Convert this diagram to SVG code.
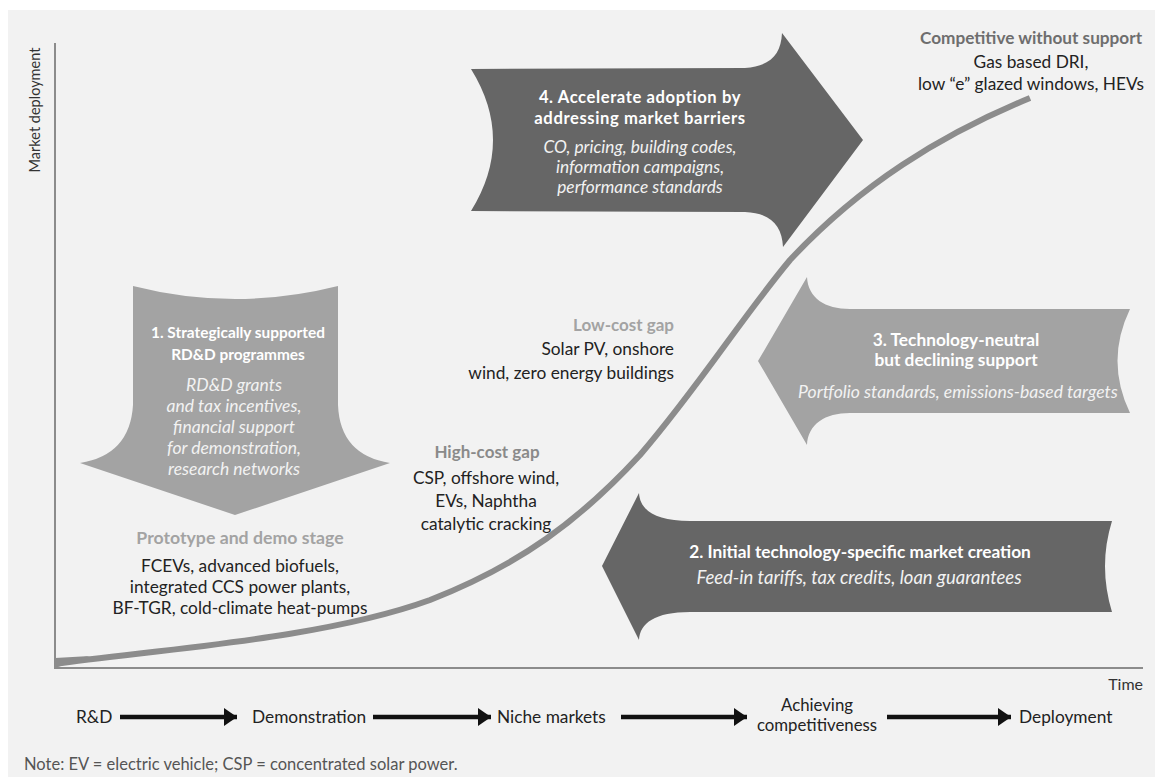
<svg xmlns="http://www.w3.org/2000/svg" width="1155" height="777" viewBox="0 0 1155 777">
  <style>
    text { font-family: "Lato", "Liberation Sans", sans-serif; }
    .b { font-weight: 700; }
    .i { font-style: italic; }
    .mid { text-anchor: middle; }
    .end { text-anchor: end; }
    .w { fill: #ffffff; }
    .wi { fill: #f2f2f2; }
    .dark { fill: #666666; }
    .light { fill: #a3a3a3; }
    .ink { fill: #222222; }
    .body { font-size: 17.3px; }
    .axis { fill: none; stroke: #8c8c8c; stroke-width: 2; }
    .flow { fill: none; stroke: #111111; stroke-width: 4.5; }
  </style>
  <defs>
    <marker id="head" markerUnits="userSpaceOnUse" markerWidth="14" markerHeight="20" refX="13" refY="10" orient="auto">
      <path d="M0,1 L13,10 L0,19 Z" fill="#111111"/>
    </marker>
  </defs>

  <!-- panel -->
  <rect x="8" y="10" width="1147" height="767" fill="#f2f2f2"/>

  <!-- axes -->
  <g id="axes">
    <path class="axis" d="M55,43 L55,668 L1143,668"/>
    <text x="40" y="110" class="mid" font-size="14.5" fill="#333" transform="rotate(-90 40 110)">Market deployment</text>
    <text x="1143" y="690" class="end" font-size="16" fill="#333">Time</text>
  </g>

  <!-- adoption S-curve -->
  <g id="curve">
    <path d="M55,664 C150,650 320,640 430,600 C520,565 580,520 640,455 C700,385 740,320 790,260 C860,185 940,135 1030,98" fill="none" stroke="#8c8c8c" stroke-width="6" stroke-linecap="butt"/>
    <path d="M55,668 L55,658 L90,656 Z" fill="#8c8c8c"/>
  </g>

  <!-- policy arrows -->
  <g id="policy-1">
    <path class="light" d="M133,286 Q235,312 338,286 L338,405 Q340,455 390,463 L235,515 L80,463 Q130,455 133,405 Z"/>
    <text class="b mid w" x="238" y="338" font-size="15.4">1. Strategically supported</text>
    <text class="b mid w" x="238" y="360" font-size="15.4">RD&amp;D programmes</text>
    <text class="i mid wi" x="234" y="391" font-size="17.5">RD&amp;D grants</text>
    <text class="i mid wi" x="234" y="412" font-size="17.5">and tax incentives,</text>
    <text class="i mid wi" x="234" y="433" font-size="17.5">financial support</text>
    <text class="i mid wi" x="234" y="454" font-size="17.5">for demonstration,</text>
    <text class="i mid wi" x="234" y="475" font-size="17.5">research networks</text>
  </g>

  <g id="policy-4">
    <path class="dark" d="M471,69 L745,68 C770,66 781,55 782,33 L863,140 L783,247 C782,226 771,213 745,212 L471,211 Q515,140 471,69 Z"/>
    <text class="b mid w" x="640" y="103" font-size="16.6" letter-spacing="0.6">4. Accelerate adoption by</text>
    <text class="b mid w" x="640" y="124" font-size="16.6" letter-spacing="0.6">addressing market barriers</text>
    <text class="i mid wi" x="640" y="153" font-size="17.3">CO, pricing, building codes,</text>
    <text class="i mid wi" x="640" y="173" font-size="17.3">information campaigns,</text>
    <text class="i mid wi" x="640" y="193" font-size="17.3">performance standards</text>
  </g>

  <g id="policy-3">
    <path class="light" d="M758,361 L807,277 C808,298 825,309 850,309 L1130,309 Q1105,361 1130,413 L850,413 C825,413 808,424 807,445 Z"/>
    <text class="b mid w" x="956" y="346" font-size="17.3">3. Technology-neutral</text>
    <text class="b mid w" x="956" y="366" font-size="17.3">but declining support</text>
    <text class="i mid wi" x="958" y="398" font-size="17.6">Portfolio standards, emissions-based targets</text>
  </g>

  <g id="policy-2">
    <path class="dark" d="M602,566 L639,493 C640,510 655,521 690,521 L1112,521 Q1098,566 1112,612 L690,612 C655,612 640,623 639,640 Z"/>
    <text class="b mid w" x="860" y="558" font-size="17.3">2. Initial technology-specific market creation</text>
    <text class="i mid wi" x="859" y="584" font-size="18.5">Feed-in tariffs, tax credits, loan guarantees</text>
  </g>

  <!-- technology stage labels -->
  <g id="stage-competitive">
    <text class="b mid" x="1031" y="44" font-size="17.2" fill="#6e6e6e">Competitive without support</text>
    <text class="mid ink body" x="1031" y="68">Gas based DRI,</text>
    <text class="mid ink body" x="1031" y="90">low “e” glazed windows, HEVs</text>
  </g>

  <g id="stage-low-cost">
    <text class="b end" x="674" y="331" font-size="17" fill="#a3a3a3">Low-cost gap</text>
    <text class="end ink body" x="674" y="355">Solar PV, onshore</text>
    <text class="end ink body" x="674" y="379">wind, zero energy buildings</text>
  </g>

  <g id="stage-high-cost">
    <text class="b mid" x="487" y="458" font-size="17" fill="#8a8a8a">High-cost gap</text>
    <text class="mid ink body" x="486" y="484">CSP, offshore wind,</text>
    <text class="mid ink body" x="486" y="507">EVs, Naphtha</text>
    <text class="mid ink body" x="486" y="530">catalytic cracking</text>
  </g>

  <g id="stage-prototype">
    <text class="b mid" x="240" y="544" font-size="17.7" fill="#a3a3a3">Prototype and demo stage</text>
    <text class="mid ink body" x="240" y="572">FCEVs, advanced biofuels,</text>
    <text class="mid ink body" x="240" y="593">integrated CCS power plants,</text>
    <text class="mid ink body" x="240" y="614">BF-TGR, cold-climate heat-pumps</text>
  </g>

  <!-- development phases along the time axis -->
  <g id="phase-rd"><text class="ink body" x="76" y="723">R&amp;D</text></g>
  <g id="phase-demo"><text class="ink body" x="252" y="723">Demonstration</text></g>
  <g id="phase-niche"><text class="ink body" x="497" y="723">Niche markets</text></g>
  <g id="phase-competitive">
    <text class="mid ink" x="817" y="711" font-size="16.8">Achieving</text>
    <text class="mid ink" x="817" y="731" font-size="16.8">competitiveness</text>
  </g>
  <g id="phase-deploy"><text class="ink body" x="1019" y="723">Deployment</text></g>

  <g id="connectors">
    <path class="flow" d="M120,717 L237,717" marker-end="url(#head)"/>
    <path class="flow" d="M373,717 L491,717" marker-end="url(#head)"/>
    <path class="flow" d="M621,717 L747,717" marker-end="url(#head)"/>
    <path class="flow" d="M887,717 L1011,717" marker-end="url(#head)"/>
  </g>

  <text x="24" y="770" font-size="16.5" fill="#555">Note: EV = electric vehicle; CSP = concentrated solar power.</text>
</svg>
